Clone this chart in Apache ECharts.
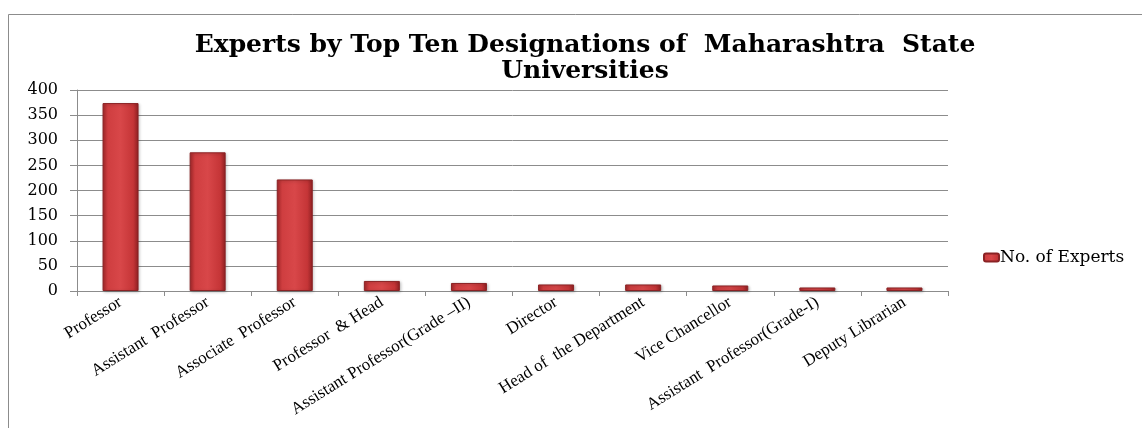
<!DOCTYPE html>
<html>
<head>
<meta charset="utf-8">
<script src="https://cdn.jsdelivr.net/npm/echarts@6/dist/echarts.min.js"></script>
<style>
  html, body { margin: 0; padding: 0; background: #fff; }
  #chart-box { width: 1142px; height: 428px; }
</style>
</head>
<body>
<div id="chart-box"></div>
<script>
// ---------------- data ----------------
var designations = [
  'Professor', 'Assistant  Professor', 'Associate  Professor', 'Professor  & Head',
  'Assistant Professor(Grade –II)', 'Director', 'Head of  the Department',
  'Vice Chancellor', 'Assistant  Professor(Grade-I)', 'Deputy Librarian'
];
var expertCounts = [374, 276, 222, 20, 16, 13, 13, 11, 7, 7];
var yTicks = [0, 50, 100, 150, 200, 250, 300, 350, 400];
var seriesName = 'No. of Experts';

// ---------------- style ----------------
var barFill = new echarts.graphic.LinearGradient(0, 0, 1, 0, [
  { offset: 0, color: '#a8292b' },
  { offset: 0.15, color: '#cf3e40' },
  { offset: 0.5, color: '#d84749' },
  { offset: 0.85, color: '#c53537' },
  { offset: 1, color: '#8f2022' }
]);

var option = {
  backgroundColor: '#fff',
  animation: false,
  graphic: [{
    type: 'rect',
    shape: { x: 8.5, y: 14.5, width: 1200, height: 500 },
    style: { fill: 'none', stroke: '#8c8c8c', lineWidth: 1 },
    silent: true
  }],
  title: {
    text: 'Experts by Top Ten Designations of  Maharashtra  State\nUniversities',
    left: 580,
    top: 27,
    textAlign: 'center',
    textStyle: {
      fontFamily: 'DejaVu Serif',
      fontWeight: 'bold',
      fontSize: 25,
      lineHeight: 26,
      color: '#000'
    }
  },
  legend: {
    data: [seriesName],
    orient: 'vertical',
    left: 978,
    top: 244,
    itemWidth: 15,
    itemHeight: 8,
    itemGap: 4,
    textStyle: { fontFamily: 'DejaVu Serif', fontSize: 17, color: '#000', padding: [0, 0, 0, -4] }
  },
  grid: { left: 77, right: 194, top: 90, bottom: 137, containLabel: false },
  xAxis: {
    type: 'category',
    data: designations,
    boundaryGap: true,
    axisLine: { lineStyle: { color: '#8c8c8c', width: 1 } },
    axisTick: { show: true, alignWithLabel: false, length: 5, lineStyle: { color: '#8c8c8c' } },
    axisLabel: {
      interval: 0,
      rotate: 32,
      margin: 10,
      fontFamily: 'Liberation Serif',
      fontSize: 17,
      color: '#000'
    }
  },
  yAxis: {
    type: 'value',
    min: yTicks[0],
    max: yTicks[yTicks.length - 1],
    interval: yTicks[1] - yTicks[0],
    axisLine: { show: true, lineStyle: { color: '#8c8c8c', width: 1 } },
    axisTick: { show: true, length: 7, lineStyle: { color: '#8c8c8c' } },
    splitLine: { lineStyle: { color: '#8c8c8c', width: 1 } },
    axisLabel: {
      margin: 19,
      fontFamily: 'DejaVu Serif',
      fontSize: 16,
      color: '#000'
    }
  },
  series: [{
    name: seriesName,
    type: 'bar',
    data: expertCounts,
    barWidth: 36,
    itemStyle: {
      color: barFill,
      borderColor: '#8a2224',
      borderWidth: 1,
      shadowColor: 'rgba(0,0,0,0.25)',
      shadowBlur: 3,
      shadowOffsetX: 1,
      shadowOffsetY: 1
    }
  }]
};

var chart = echarts.init(document.getElementById('chart-box'));
chart.setOption(option);
</script>
</body>
</html>
